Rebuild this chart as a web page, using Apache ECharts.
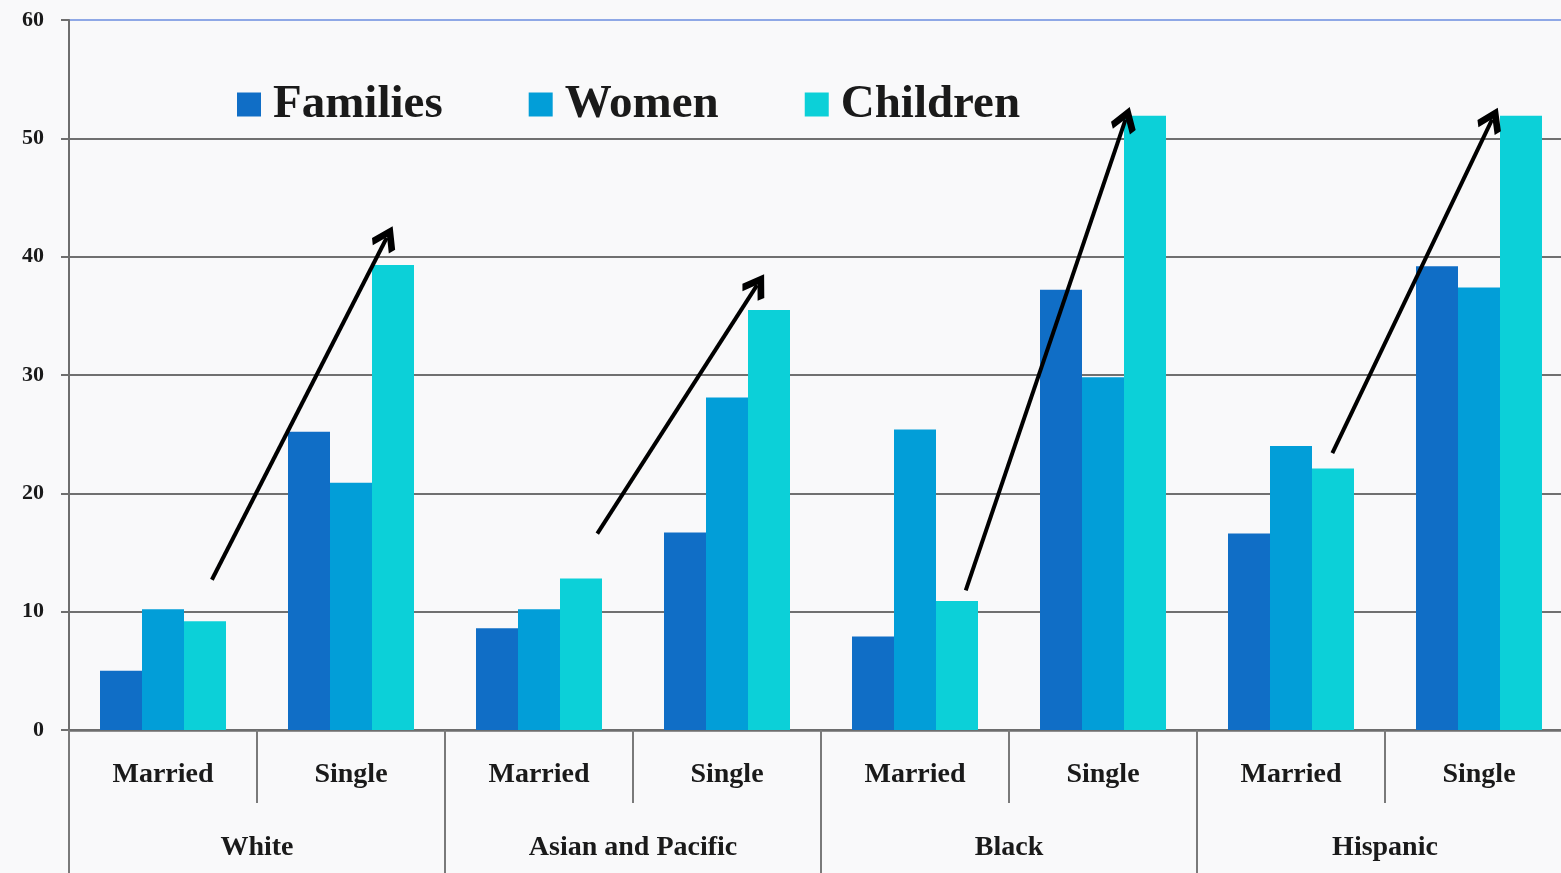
<!DOCTYPE html>
<html>
<head>
<meta charset="utf-8">
<script src="https://cdn.jsdelivr.net/npm/echarts@6/dist/echarts.min.js"></script>
<style>
html,body{margin:0;padding:0;background:#f9f9fa;}
#chart{width:1561px;height:873px;}
</style>
</head>
<body>
<div id="chart"></div>
<script>
var subCategories = ['Married','Single','Married','Single','Married','Single','Married','Single'];
var groups = ['White','Asian and Pacific','Black','Hispanic'];
var seriesNames = ['Families','Women','Children'];
var families = [5.0, 25.2, 8.6, 16.7, 7.9, 37.2, 16.6, 39.2];
var women    = [10.2, 20.9, 10.2, 28.1, 25.4, 29.8, 24.0, 37.4];
var children = [9.2, 39.3, 12.8, 35.5, 10.9, 51.9, 22.1, 51.9];
var yTicks = [0,10,20,30,40,50,60];
// arrow annotations: [startX, startY, endX, endY] in (category-unit, value) space
var arrows = [
  [0.76, 12.7, 1.69, 41.6],
  [2.81, 16.6, 3.66, 37.6],
  [4.77, 11.8, 5.62, 51.6],
  [6.72, 23.4, 7.57, 51.6]
];
var colors = ['#106ec6','#029ed8','#0cd0d8'];
var font = '"Liberation Serif", "DejaVu Serif", serif';

var chart = echarts.init(document.getElementById('chart'));
var bar = function(name, data, i){
  return {
    name: name, type: 'bar', data: data, xAxisIndex: 0, yAxisIndex: 0,
    barWidth: 42, barGap: '0%',
    itemStyle: {color: colors[i]},
    emphasis: {disabled: true}, animation: false
  };
};
var chevron = 'path://M0,0 L13,13 L9,17 L0,8 L-9,17 L-13,13 Z';
var option = {
  backgroundColor: '#f9f9fa',
  animation: false,
  color: colors,
  legend: {
    data: seriesNames,
    left: 232, top: 76,
    itemWidth: 24, itemHeight: 24, itemGap: 86,
    icon: 'rect',
    textStyle: {fontFamily: font, fontWeight: 'bold', fontSize: 47, color: '#1a1a1a', padding: [0,0,0,7]}
  },
  grid: {left: 69, width: 1504, top: 20, height: 710, containLabel: false, outerBoundsMode: 'none'},
  xAxis: [
    {
      type: 'category', data: subCategories, position: 'bottom',
      axisLine: {show: true, lineStyle: {color: '#6e6e6e', width: 2.5}},
      axisTick: {show: true, length: 73, lineStyle: {color: '#7a7a7a', width: 2}},
      axisLabel: {fontFamily: font, fontWeight: 'bold', fontSize: 28, color: '#1a1a1a', margin: 31},
      splitLine: {show: false}
    },
    {
      type: 'category', data: groups, position: 'bottom',
      axisLine: {show: false},
      axisTick: {show: true, length: 143, lineStyle: {color: '#7a7a7a', width: 2}},
      axisLabel: {fontFamily: font, fontWeight: 'bold', fontSize: 28, color: '#1a1a1a', margin: 104},
      splitLine: {show: false}
    },
    {
      type: 'value', min: 0, max: 8, show: false
    }
  ],
  yAxis: {
    type: 'value', min: 0, max: 60, interval: 10,
    axisLine: {show: true, lineStyle: {color: '#6e6e6e', width: 2}},
    axisTick: {show: true, length: 8, lineStyle: {color: '#6e6e6e', width: 2}},
    axisLabel: {fontFamily: font, fontWeight: 'bold', fontSize: 22, color: '#1a1a1a', margin: 25,
      formatter: function(v){ return yTicks.indexOf(v) >= 0 ? String(v) : ''; }},
    splitLine: {show: true, lineStyle: {color: ['#6e6e6e','#707070','#707070','#707070','#707070','#707070','#8fa8e6'], width: 2}}
  },
  series: [
    bar(seriesNames[0], families, 0),
    bar(seriesNames[1], women, 1),
    bar(seriesNames[2], children, 2),
    {
      type: 'line', xAxisIndex: 2, yAxisIndex: 0, data: [], silent: true,
      markLine: {
        silent: true, animation: false,
        symbol: ['none', chevron], symbolSize: [26, 26],
        label: {show: false},
        lineStyle: {color: '#000', width: 4, type: 'solid'},
        emphasis: {disabled: true},
        data: arrows.map(function(a){ return [{coord: [a[0], a[1]]}, {coord: [a[2], a[3]]}]; })
      }
    }
  ]
};
chart.setOption(option);
</script>
</body>
</html>
